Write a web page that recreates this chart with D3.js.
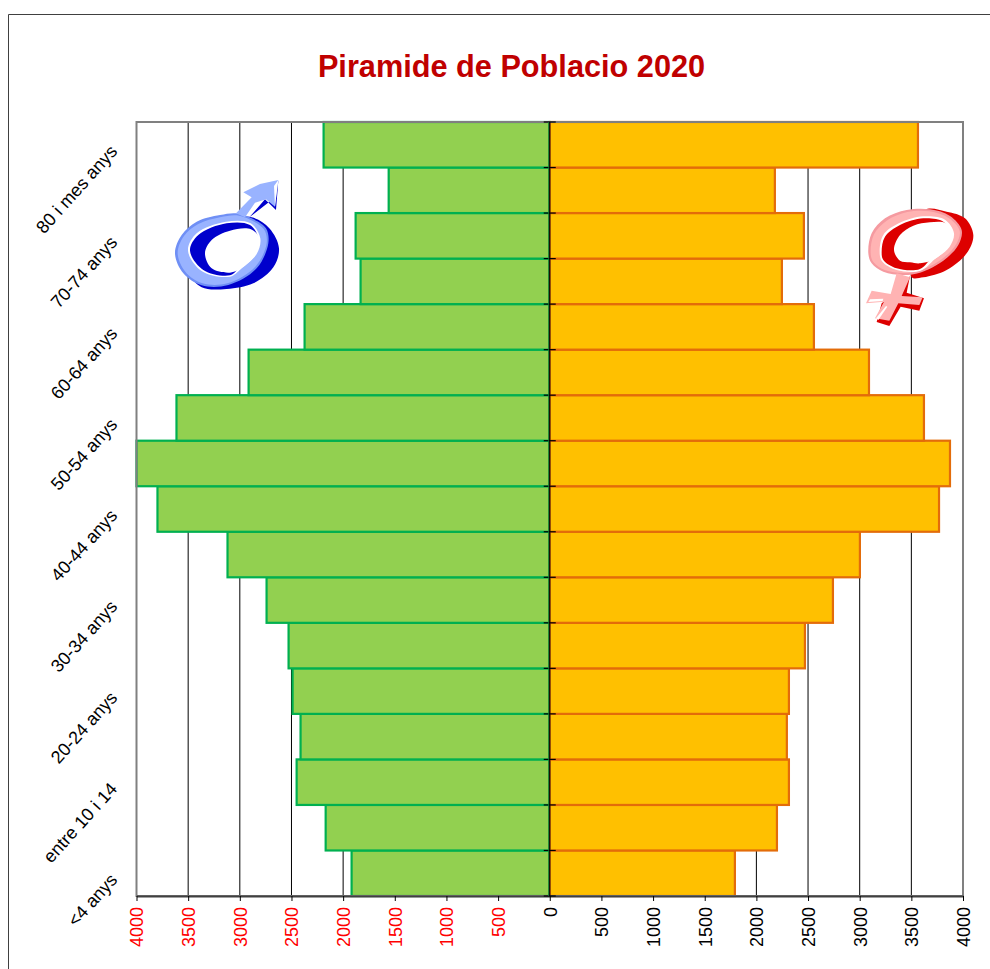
<!DOCTYPE html>
<html><head><meta charset="utf-8">
<script src="https://cdn.jsdelivr.net/npm/d3@7/dist/d3.min.js"></script>
<style>html,body{margin:0;padding:0;background:#fff}svg{display:block}text{font-family:"Liberation Sans",Arial,sans-serif}</style>
</head><body><svg id="c" width="990" height="969"></svg>
<script>
const title = "Piramide de Poblacio 2020";
const categories = ["<4 anys","5-9 anys","entre 10 i 14","15-19 anys","20-24 anys","25-29 anys","30-34 anys","35-39 anys","40-44 anys","45-49 anys","50-54 anys","55-59 anys","60-64 anys","65-69 anys","70-74 anys","75-79 anys","80 i mes anys"];
const men = [1918,2169,2450,2412,2489,2528,2741,3119,3797,4000,3613,2915,2373,1831,1879,1559,2189];
const women = [1792,2199,2315,2295,2315,2470,2741,3002,3768,3874,3622,3090,2557,2247,2460,2179,3564];
const tickValues = [-4000,-3500,-3000,-2500,-2000,-1500,-1000,-500,0,500,1000,1500,2000,2500,3000,3500,4000];

const L=136.5,R=963,T=122,B=896;
const svg=d3.select("#c");
svg.append("path").attr("d","M8.5 969V14.5H990").attr("fill","none").attr("stroke","#404040");
svg.append("text").attr("x",511.5).attr("y",77).attr("text-anchor","middle").attr("font-size",30.7).attr("font-weight","bold").attr("fill","#C00000").text(title);

const x=d3.scaleLinear().domain([-4000,4000]).range([L,R]);
const y=d3.scaleBand().domain(categories).range([B,T]);

svg.append("g").selectAll("line").data(tickValues).join("line")
 .attr("x1",d=>x(d)).attr("x2",d=>x(d)).attr("y1",T).attr("y2",B)
 .attr("stroke","#000").attr("stroke-width",1);

const rows=categories.map((c,i)=>({c,m:men[i],w:women[i]}));
svg.append("g").selectAll("rect").data(rows).join("rect")
 .attr("x",d=>x(-d.m)).attr("width",d=>x(0)-x(-d.m)).attr("y",d=>y(d.c)).attr("height",y.bandwidth())
 .attr("fill","#92D050").attr("stroke","#00B050").attr("stroke-width",2.2);
svg.append("g").selectAll("rect").data(rows).join("rect")
 .attr("x",x(0)).attr("width",d=>x(d.w)-x(0)).attr("y",d=>y(d.c)).attr("height",y.bandwidth())
 .attr("fill","#FFC000").attr("stroke","#E36C0A").attr("stroke-width",2.2);

svg.append("rect").attr("x",L).attr("y",T).attr("width",R-L).attr("height",B-T).attr("fill","none").attr("stroke","#808080").attr("stroke-width",2);

const ax=svg.append("g").attr("transform",`translate(0,${B})`)
 .call(d3.axisBottom(x).tickValues(tickValues).tickSize(5).tickSizeOuter(0).tickFormat(d=>Math.abs(d)));
ax.select(".domain").attr("stroke","#404040").attr("stroke-width",2);
ax.selectAll(".tick line").attr("stroke","#000");
ax.selectAll(".tick text")
 .attr("transform","rotate(-90)").attr("x",-11).attr("y",0).attr("dy","0.36em")
 .attr("text-anchor","end").attr("font-size",18).attr("font-family",'"Liberation Sans",Arial,sans-serif')
 .attr("fill",d=>d<0?"#FF0000":"#000");

const edges=d3.range(categories.length+1).map(i=>B-i*y.step());
svg.append("g").selectAll("line").data(edges).join("line")
 .attr("x1",x(0)-6).attr("x2",x(0)+6).attr("y1",d=>d).attr("y2",d=>d).attr("stroke","#000").attr("stroke-width",1.2);
svg.append("line").attr("x1",x(0)-1).attr("x2",x(0)-1).attr("y1",T).attr("y2",B).attr("stroke","#00803a").attr("stroke-width",1);
svg.append("line").attr("x1",x(0)).attr("x2",x(0)).attr("y1",T).attr("y2",B).attr("stroke","#000").attr("stroke-width",1.2);

svg.append("g").selectAll("text").data(categories.filter((c,i)=>i%2===0)).join("text")
 .attr("transform",d=>`translate(${L-23},${y(d)+y.bandwidth()/2+3}) rotate(-48)`)
 .attr("text-anchor","end").attr("dy","0.36em").attr("font-size",18).attr("fill","#000").text(d=>d);

const blob=d3.line().curve(d3.curveCatmullRomClosed.alpha(0.5));
const addBlob=(g,pts,fill)=>g.append("path").attr("d",blob(pts)).attr("fill",fill);
const addPoly=(g,pts,fill)=>g.append("path").attr("d","M"+pts.join("L")+"Z").attr("fill",fill);

const mg=svg.append("g").attr("transform","translate(140,160) scale(0.3333)");
const B1="#0000CC",B2="#99B3FF",B3="#6F8FF5";
addPoly(mg,[[328,172],[375,118],[408,150],[415,62],[395,120]],B1);
addBlob(mg,[[150,340],[185,382],[260,387],[340,370],[400,322],[417,265],[388,205],[335,172],[250,180],[170,250]],B1);
addBlob(mg,[[105,280],[125,225],[170,185],[240,165],[290,160],[335,175],[378,205],[385,250],[350,325],[265,375],[185,376],[130,340]],B3);
addBlob(mg,[[113,280],[132,228],[175,192],[240,172],[290,166],[332,180],[372,208],[380,250],[346,320],[262,370],[188,370],[136,335]],B2);
addPoly(mg,[[288,160],[335,112],[310,97],[360,72],[415,60],[405,140],[378,118],[345,128],[315,172]],B2);
addPoly(mg,[[415,60],[402,78],[405,140]],"#FFFFFF");
addBlob(mg,[[144,272],[170,220],[258,185],[332,190],[361,235],[350,282],[303,327],[270,350],[186,334]],"#FFFFFF");
addBlob(mg,[[150,272],[175,225],[260,190],[330,195],[355,235],[345,280],[300,322],[270,346],[190,330]],B1);
addBlob(mg,[[195,280],[215,240],[270,212],[333,208],[358,235],[348,282],[303,325],[270,338],[215,325]],"#FFFFFF");

const fg=svg.append("g").attr("transform","translate(850,190) scale(0.3333)");
const R1="#DD0000",R2="#FFB3B3",R3="#F59AA0";
addPoly(fg,[[180,258],[170,308],[222,325],[208,362],[152,350],[118,408],[80,396],[95,340],[150,300]],R1);
addBlob(fg,[[225,60],[290,65],[345,85],[370,135],[350,190],[290,240],[220,262],[185,262],[200,160]],R1);
addBlob(fg,[[55,190],[65,130],[105,85],[170,60],[240,58],[300,78],[335,120],[325,165],[280,212],[210,248],[160,255],[100,245],[65,220]],R3);
addBlob(fg,[[62,190],[72,133],[110,92],[172,66],[238,64],[296,84],[329,122],[319,162],[276,207],[208,242],[160,249],[104,240],[70,216]],R2);
addPoly(fg,[[140,250],[180,262],[155,318],[218,322],[208,345],[145,340],[118,392],[75,385],[102,335],[48,340],[65,302],[122,312]],R2);
addPoly(fg,[[60,328],[100,326],[98,333],[55,336]],"#FFFFFF");
addPoly(fg,[[78,385],[108,348],[112,350],[85,390]],"#FFFFFF");
addBlob(fg,[[89,185],[100,135],[146,100],[220,79],[285,89],[312,130],[299,170],[254,208],[212,242],[140,240],[96,214]],"#FFFFFF");
addBlob(fg,[[95,185],[105,140],[150,105],[220,85],[280,95],[303,130],[290,165],[248,200],[210,237],[140,235],[100,210]],R1);
addBlob(fg,[[132,180],[150,135],[190,107],[240,97],[288,100],[309,130],[296,169],[254,207],[210,220],[180,217],[150,212]],"#FFFFFF");
</script></body></html>
